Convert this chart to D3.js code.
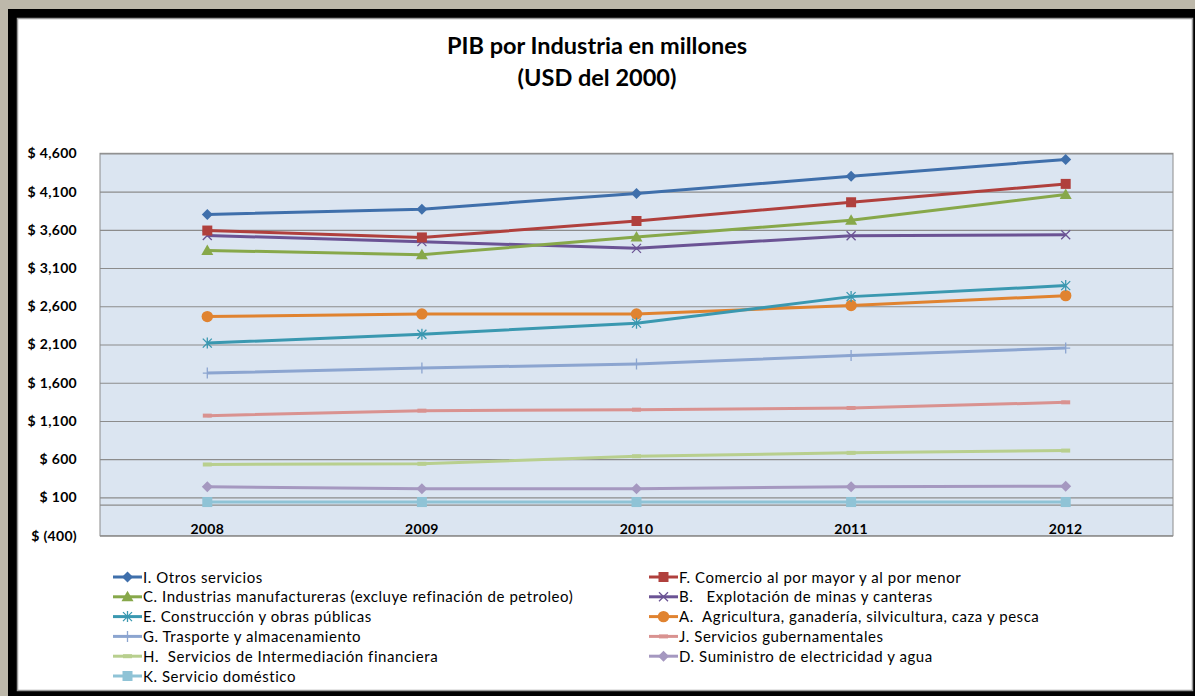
<!DOCTYPE html>
<html>
<head>
<meta charset="utf-8">
<script src="https://cdn.jsdelivr.net/npm/d3@7"></script>
<style>
  body { margin: 0; background: #bdb8aa; }
  svg { display: block; }
  text { white-space: pre; }
</style>
</head>
<body>
<script>
const width = 1195;
const height = 696;

// data
const years = ["2008", "2009", "2010", "2011", "2012"];
const seriesNames = [
  "I. Otros servicios",
  "F. Comercio al por mayor y al por menor",
  "C. Industrias manufactureras (excluye refinación de petroleo)",
  "B.   Explotación de minas y canteras",
  "E. Construcción y obras públicas",
  "A.  Agricultura, ganadería, silvicultura, caza y pesca",
  "G. Trasporte y almacenamiento",
  "J. Servicios gubernamentales",
  "H.  Servicios de Intermediación financiera",
  "D. Suministro de electricidad y agua",
  "K. Servicio doméstico"
];
const otrosServicios = [3800, 3870, 4075, 4300, 4520];
const comercio = [3590, 3500, 3715, 3960, 4200];
const manufactura = [3330, 3275, 3505, 3726, 4060];
const minas = [3525, 3445, 3357, 3522, 3535];
const construccion = [2118, 2235, 2379, 2726, 2870];
const agricultura = [2465, 2500, 2498, 2609, 2739];
const transporte = [1727, 1792, 1846, 1957, 2053];
const gubernamentales = [1170, 1235, 1248, 1270, 1344];
const financiera = [531, 540, 639, 683, 713];
const electricidad = [240, 214, 214, 240, 248];
const domestico = [40, 40, 40, 40, 40];
const seriesValues = [otrosServicios, comercio, manufactura, minas, construccion,
  agricultura, transporte, gubernamentales, financiera, electricidad, domestico];
const seriesColors = ["#3f6fab", "#b0403d", "#87a84a", "#6b5394", "#3a98b0",
  "#e08330", "#8ca5d0", "#d99290", "#b8cf8e", "#a598c0", "#8fc3d6"];
const seriesMarkers = ["diamond", "square", "triangle", "x", "asterisk",
  "circle", "plus", "dash", "dash", "diamond", "square"];
const yTicks = d3.range(-400, 4601, 500);

const svg = d3.select("body").append("svg")
  .attr("width", width)
  .attr("height", height)
  .style("font-family", "Lato, 'Open Sans', sans-serif");

// window frame
svg.append("rect").attr("x", 0).attr("y", 0).attr("width", width).attr("height", height).attr("fill", "#bdb8aa");
svg.append("rect").attr("x", 8).attr("y", 9).attr("width", width - 8).attr("height", height - 9).attr("fill", "#000");
svg.append("rect").attr("x", 17.5).attr("y", 18.5).attr("width", 1175).attr("height", 672)
  .attr("fill", "#fff").attr("stroke", "#9a9a9a").attr("stroke-width", 1.5);

// title
const title = svg.append("text")
  .attr("x", 597).attr("text-anchor", "middle")
  .style("font-size", "23.5px").style("font-weight", "bold").attr("fill", "#000");
title.append("tspan").attr("x", 597).attr("y", 54).text("PIB por Industria en millones");
title.append("tspan").attr("x", 597).attr("y", 86).text("(USD del 2000)");

// scales
const x = d3.scalePoint().domain(years).range([100, 1173]).padding(0.5);
const y = d3.scaleLinear().domain([-400, 4600]).range([535.7, 153.3]);

// plot area
svg.append("rect")
  .attr("x", 100).attr("y", y(4600)).attr("width", 1073).attr("height", y(-400) - y(4600))
  .attr("fill", "#dbe5f1").attr("stroke", "#8c8c8c");

const fmt = d3.format(",");
const yAxis = d3.axisLeft(y).tickValues(yTicks).tickSize(-1073)
  .tickFormat(d => d < 0 ? "$ (" + fmt(-d) + ")" : "$ " + fmt(d));
const gy = svg.append("g").attr("transform", "translate(100,0)").call(yAxis);
gy.select(".domain").remove();
gy.selectAll(".tick line").attr("stroke", "#8c8c8c").attr("stroke-width", 1.2);
gy.selectAll(".tick text")
  .attr("x", -23).attr("fill", "#000")
  .style("font-size", "14px").style("font-weight", "bold").style("letter-spacing", "0.3px")
  .style("font-family", "Lato, sans-serif");

// category axis at zero
svg.append("line")
  .attr("x1", 100).attr("x2", 1173).attr("y1", y(0)).attr("y2", y(0))
  .attr("stroke", "#8c8c8c").attr("stroke-width", 1.2);
svg.append("g").selectAll("text").data(years).join("text")
  .attr("x", d => x(d)).attr("y", 534).attr("text-anchor", "middle")
  .style("font-size", "14px").style("font-weight", "bold").style("letter-spacing", "0.3px")
  .text(d => d);

function markerPath(type) {
  switch (type) {
    case "diamond": return "M0,-5.5L5.5,0L0,5.5L-5.5,0Z";
    case "square": return "M-5,-5H5V5H-5Z";
    case "triangle": return "M0,-6L6,4.5H-6Z";
    case "circle": return d3.arc()({innerRadius: 0, outerRadius: 5.7, startAngle: 0, endAngle: 2 * Math.PI});
    case "x": return "M-4.5,-4.5L4.5,4.5M-4.5,4.5L4.5,-4.5";
    case "asterisk": return "M-4.5,-4.5L4.5,4.5M-4.5,4.5L4.5,-4.5M0,-5.5V5.5";
    case "plus": return "M-4.5,0H4.5M0,-5.5V5.5";
    case "dash": return "M-4.5,0H4.5";
  }
}
const strokeOnly = t => t === "x" || t === "asterisk" || t === "plus" || t === "dash";

function drawMarker(g, type, color) {
  g.append("path").attr("d", markerPath(type))
    .attr("fill", strokeOnly(type) ? "none" : color)
    .attr("stroke", color)
    .attr("stroke-width", type === "dash" ? 4 : (strokeOnly(type) ? 1.3 : 0));
}

const line = d3.line().x((d, i) => x(years[i])).y(d => y(d));

// draw series, last first so the first ones stay on top
const series = seriesNames.map((name, i) => ({
  name: name, values: seriesValues[i], color: seriesColors[i], marker: seriesMarkers[i]
}));
series.slice().reverse().forEach(s => {
  const g = svg.append("g");
  g.append("path").attr("d", line(s.values))
    .attr("fill", "none").attr("stroke", s.color).attr("stroke-width", 3)
    .attr("stroke-linejoin", "round");
  s.values.forEach((v, i) => {
    const m = g.append("g").attr("transform", `translate(${x(years[i])},${y(v)})`);
    drawMarker(m, s.marker, s.color);
  });
});

// legend, two columns filled row by row
const legend = svg.append("g");
series.forEach((s, i) => {
  const col = i % 2;
  const row = Math.floor(i / 2);
  const lx = col === 0 ? 113 : 649;
  const ly = 577 + row * 19.8;
  const g = legend.append("g").attr("transform", `translate(${lx},${ly})`);
  g.append("line").attr("x1", 0).attr("x2", 29).attr("y1", 0).attr("y2", 0)
    .attr("stroke", s.color).attr("stroke-width", 3);
  const m = g.append("g").attr("transform", "translate(14.5,0)");
  drawMarker(m, s.marker, s.color);
  g.append("text").attr("x", 30).attr("y", 5.5)
    .style("font-size", "15px").style("letter-spacing", "0.55px")
    .attr("fill", "#000").text(s.name);
});
</script>
</body>
</html>
